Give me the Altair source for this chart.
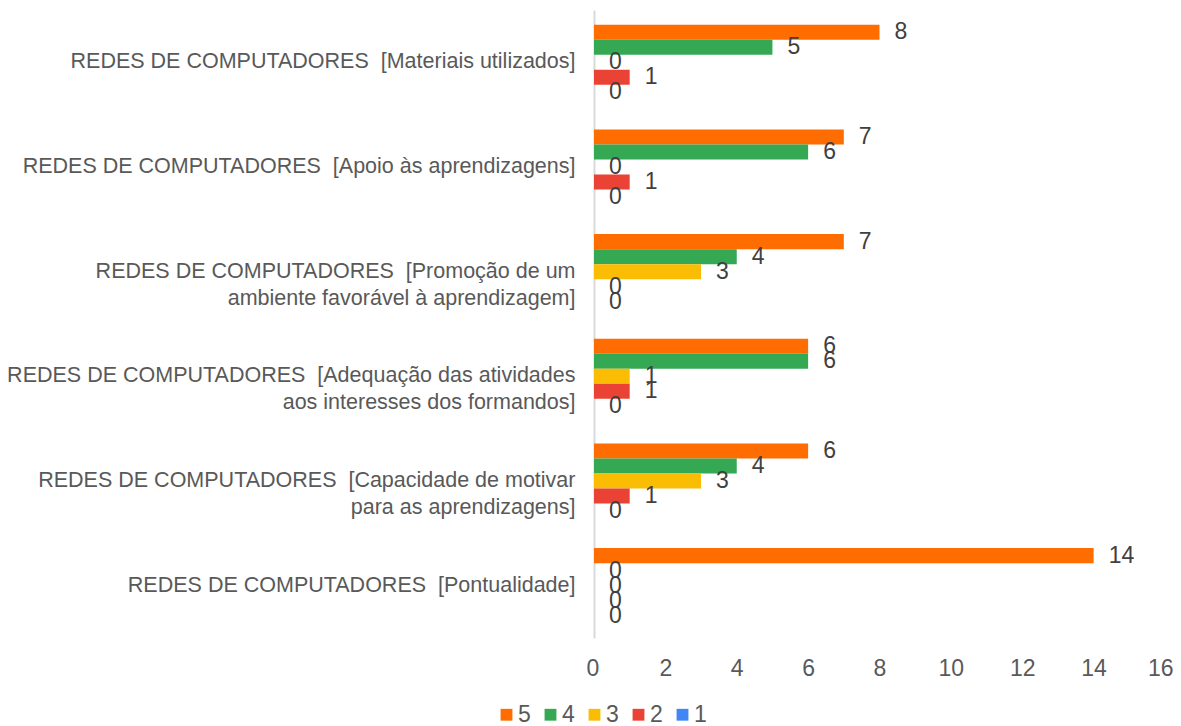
import altair as alt
import pandas as pd

categories = [
    "REDES DE COMPUTADORES \u00a0[Materiais utilizados]",
    "REDES DE COMPUTADORES \u00a0[Apoio às aprendizagens]",
    "REDES DE COMPUTADORES \u00a0[Promoção de um\nambiente favorável à aprendizagem]",
    "REDES DE COMPUTADORES \u00a0[Adequação das atividades\naos interesses dos formandos]",
    "REDES DE COMPUTADORES \u00a0[Capacidade de motivar\npara as aprendizagens]",
    "REDES DE COMPUTADORES \u00a0[Pontualidade]",
]
series_names = ["5", "4", "3", "2", "1"]
s5 = [8, 7, 7, 6, 6, 14]
s4 = [5, 6, 4, 6, 4, 0]
s3 = [0, 0, 3, 1, 3, 0]
s2 = [1, 1, 0, 1, 1, 0]
s1 = [0, 0, 0, 0, 0, 0]
colors = ["#FF6D01", "#34A853", "#FBBC04", "#EA4335", "#4285F4"]
x_ticks = [0, 2, 4, 6, 8, 10, 12, 14, 16]

rows = []
for name, vals in zip(series_names, [s5, s4, s3, s2, s1]):
    for cat, v in zip(categories, vals):
        rows.append({"cat": cat, "serie": name, "value": v})
df = pd.DataFrame(rows)

FONT = "Liberation Sans"

y_enc = alt.Y(
    "cat:N",
    sort=categories,
    scale=alt.Scale(paddingInner=0, paddingOuter=0),
    axis=alt.Axis(
        title=None,
        labelExpr="split(datum.label, '\\n')",
        labelFont=FONT,
        labelFontSize=21.5,
        labelColor="#595959",
        labelLimit=700,
        labelPadding=19,
        labelLineHeight=27,
        ticks=False,
        domainColor="#d9d9d9",
        domainWidth=2,
        grid=False,
    ),
)
yoff_enc = alt.YOffset(
    "serie:N",
    sort=series_names,
    scale=alt.Scale(paddingInner=0, paddingOuter=0.983),
)
x_enc = alt.X(
    "value:Q",
    scale=alt.Scale(domain=[0, 16], nice=False),
    axis=alt.Axis(
        title=None,
        values=x_ticks,
        domain=False,
        ticks=False,
        grid=False,
        labelFlush=True,
        labelFlushOffset=8,
        labelFont=FONT,
        labelFontSize=23,
        labelColor="#595959",
        labelPadding=19,
    ),
)

bars = alt.Chart(df).mark_bar().encode(
    y=y_enc,
    yOffset=yoff_enc,
    x=x_enc,
    color=alt.Color(
        "serie:N",
        sort=series_names,
        scale=alt.Scale(domain=series_names, range=colors),
        legend=alt.Legend(
            title=None,
            orient="none",
            direction="horizontal",
            legendX=-99,
            legendY=693,
            symbolType="square",
            symbolSize=140,
            symbolStrokeWidth=0,
            labelFont=FONT,
            labelFontSize=23,
            labelColor="#595959",
            labelOffset=0,
            columnPadding=8,
        ),
    ),
)

labels = alt.Chart(df).mark_text(
    align="left", baseline="middle", dx=15, font=FONT, fontSize=23, color="#404040"
).encode(
    y=alt.Y("cat:N", sort=categories),
    yOffset=alt.YOffset("serie:N", sort=series_names),
    x=alt.X("value:Q"),
    text=alt.Text("value:Q"),
)

chart = (
    alt.layer(bars, labels)
    .properties(
        width=571,
        height=628,
        autosize=alt.AutoSizeParams(type="none"),
        padding={"left": 586, "top": 2, "right": 8, "bottom": 88},
        background="white",
    )
    .configure_view(strokeWidth=0, stroke="transparent")
)

chart.save("out.html", embed_options={"renderer": "svg", "actions": False})
